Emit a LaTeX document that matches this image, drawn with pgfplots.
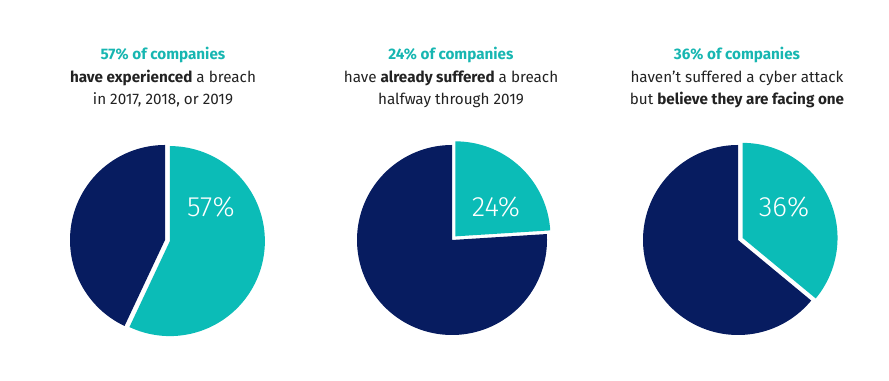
\documentclass[border=0pt]{standalone}
\usepackage{pgfplots}
\pgfplotsset{compat=1.18}
\usepackage{fontspec}
\setmainfont{Fira Sans}
\newfontfamily\lightfont{Fira Sans Light}
\definecolor{tealc}{HTML}{0BBCB7}
\definecolor{navyc}{HTML}{071C60}
\definecolor{txt}{HTML}{222222}
\definecolor{tealt}{HTML}{17B6B1}
\begin{document}
\begin{tikzpicture}
\begin{axis}[
  width=889bp, height=381bp, scale only axis,
  xmin=0, xmax=889, ymin=0, ymax=381,
  hide axis, clip=false,
]
% ---- pie 1: 57%
\addplot[fill=navyc, draw=none, domain=90:{90+3.6*(100-57)}, samples=160, variable=\t]
  ({165+95*cos(\t)},{141+95*sin(\t)}) -- (axis cs:165,141) -- cycle;
\addplot[fill=tealc, draw=none, domain={90-3.6*57}:90, samples=160, variable=\t]
  ({165+5*cos(90-1.8*57)+95*cos(\t)},{141+5*sin(90-1.8*57)+95*sin(\t)})
  -- (axis cs:{165+5*cos(90-1.8*57)},{141+5*sin(90-1.8*57)}) -- cycle;
% ---- pie 2: 24%
\addplot[fill=navyc, draw=none, domain=90:{90+3.6*(100-24)}, samples=160, variable=\t]
  ({452+95*cos(\t)},{141+95*sin(\t)}) -- (axis cs:452,141) -- cycle;
\addplot[fill=tealc, draw=none, domain={90-3.6*24}:90, samples=100, variable=\t]
  ({452+5*cos(90-1.8*24)+95*cos(\t)},{141+5*sin(90-1.8*24)+95*sin(\t)})
  -- (axis cs:{452+5*cos(90-1.8*24)},{141+5*sin(90-1.8*24)}) -- cycle;
% ---- pie 3: 36%
\addplot[fill=navyc, draw=none, domain=90:{90+3.6*(100-36)}, samples=160, variable=\t]
  ({738+95*cos(\t)},{141+95*sin(\t)}) -- (axis cs:738,141) -- cycle;
\addplot[fill=tealc, draw=none, domain={90-3.6*36}:90, samples=120, variable=\t]
  ({738+5*cos(90-1.8*36)+95*cos(\t)},{141+5*sin(90-1.8*36)+95*sin(\t)})
  -- (axis cs:{738+5*cos(90-1.8*36)},{141+5*sin(90-1.8*36)}) -- cycle;

% ---- percentage labels
\node[anchor=base, text=white, font=\lightfont\fontsize{28}{30}\selectfont] at (axis cs:211,164) {57\%};
\node[anchor=base, text=white, font=\lightfont\fontsize{28}{30}\selectfont] at (axis cs:496,164) {24\%};
\node[anchor=base, text=white, font=\lightfont\fontsize{28}{30}\selectfont] at (axis cs:784,164) {36\%};

% ---- titles
\node[anchor=base, text=tealt, font=\fontsize{15.3}{18}\selectfont\bfseries] at (axis cs:163,321.5) {57\% of companies};
\node[anchor=base, text=txt, font=\fontsize{15.3}{18}\selectfont] at (axis cs:163,298.5) {\textbf{have experienced} a breach};
\node[anchor=base, text=txt, font=\fontsize{15.3}{18}\selectfont] at (axis cs:163,276) {in 2017, 2018, or 2019};

\node[anchor=base, text=tealt, font=\fontsize{15.3}{18}\selectfont\bfseries] at (axis cs:451,321.5) {24\% of companies};
\node[anchor=base, text=txt, font=\fontsize{15.3}{18}\selectfont] at (axis cs:451,298.5) {have \textbf{already suffered} a breach};
\node[anchor=base, text=txt, font=\fontsize{15.3}{18}\selectfont] at (axis cs:451,276) {halfway through 2019};

\node[anchor=base, text=tealt, font=\fontsize{15.3}{18}\selectfont\bfseries] at (axis cs:737,321.5) {36\% of companies};
\node[anchor=base, text=txt, font=\fontsize{15.3}{18}\selectfont] at (axis cs:737,298.5) {haven’t suffered a cyber attack};
\node[anchor=base, text=txt, font=\fontsize{15.3}{18}\selectfont] at (axis cs:737,276) {but \textbf{believe they are facing one}};
\end{axis}
\path[use as bounding box] (current axis.south west) rectangle (current axis.north east);
\end{tikzpicture}
\end{document}
